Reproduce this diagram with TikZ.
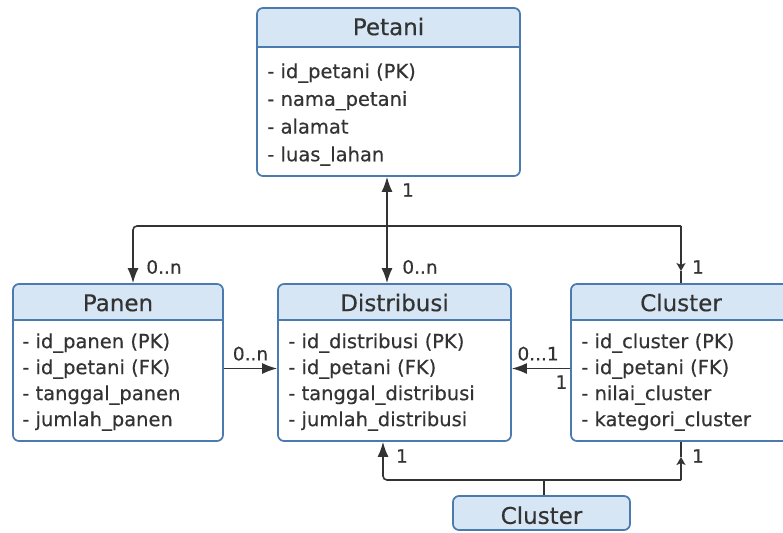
\documentclass[tikz,border=0pt]{standalone}
\usepackage{fontspec}
\setmainfont{DejaVu Sans}[UprightFeatures={FakeBold=0.4}]
\usetikzlibrary{arrows.meta, positioning, calc}

\definecolor{headblue}{HTML}{D6E6F4}
\definecolor{edgeblue}{HTML}{4A7AAE}
\definecolor{linkgray}{HTML}{333333}

\tikzset{
  box/.style={draw=edgeblue, line width=1.7pt, rounded corners=6pt, inner sep=0pt, fill=white},
  head/.style={path picture={\fill[headblue] (path picture bounding box.north west) rectangle ([yshift=-#1]path picture bounding box.north east);}},
  title/.style={font=\fontsize{23}{26}\selectfont, text=linkgray, anchor=base},
  attr/.style={font=\fontsize{19.5}{22}\selectfont, text=linkgray, anchor=base west, inner sep=0pt},
  card/.style={font=\fontsize{18.5}{20}\selectfont, text=linkgray, inner sep=0pt},
  link/.style={draw=linkgray, line width=1.6pt, rounded corners=4pt},
  big/.tip={Latex[length=15pt, width=11pt]},
  small/.tip={Stealth[length=8pt, width=9pt, inset=2pt]},
}

\begin{document}
\begin{tikzpicture}[x=1pt, y=-1pt]
  \useasboundingbox[fill=white] (0,0) rectangle (783,532);

  % entities
  \node[box, head=40pt, minimum width=263pt, minimum height=168pt] (petani) at (388.5,92) {};
  \node[box, head=37pt, minimum width=210pt, minimum height=157pt] (panen) at (118,362.5) {};
  \node[box, head=37pt, minimum width=233pt, minimum height=157pt] (distribusi) at (394.5,362.5) {};
  \node[box, head=37pt, minimum width=220pt, minimum height=157pt] (cluster) at (681,362.5) {};
  \node[box, fill=headblue, minimum width=177pt, minimum height=34pt] (clusterb) at (541.5,513) {};

  % dividers
  \draw[edgeblue, line width=1.7pt] ([yshift=-40pt]petani.north west) -- ([yshift=-40pt]petani.north east);
  \foreach \e in {panen, distribusi, cluster}
    \draw[edgeblue, line width=1.7pt] ([yshift=-37pt]\e.north west) -- ([yshift=-37pt]\e.north east);

  % titles
  \node[title] (petani-t) at ([yshift=-28pt]petani.north) {Petani};
  \node[title] (panen-t) at ([yshift=-28pt]panen.north) {Panen};
  \node[title] (distribusi-t) at ([yshift=-28pt]distribusi.north) {Distribusi};
  \node[title] (cluster-t) at ([yshift=-28pt]cluster.north) {Cluster};
  \node[title] (clusterb-t) at ([yshift=7pt]clusterb.south) {Cluster};

  % attributes
  \foreach \a [count=\i] in {- id\_petani (PK), - nama\_petani, - alamat, - luas\_lahan}
    \node[attr] (petani-\i) at ([xshift=11pt, yshift={-71pt-(\i-1)*27.7pt}]petani.north west) {\a};
  \foreach \a [count=\i] in {- id\_panen (PK), - id\_petani (FK), - tanggal\_panen, - jumlah\_panen}
    \node[attr] (panen-\i) at ([xshift=10pt, yshift={-65pt-(\i-1)*26pt}]panen.north west) {\a};
  \foreach \a [count=\i] in {- id\_distribusi (PK), - id\_petani (FK), - tanggal\_distribusi, - jumlah\_distribusi}
    \node[attr] (distribusi-\i) at ([xshift=11pt, yshift={-65pt-(\i-1)*26pt}]distribusi.north west) {\a};
  \foreach \a [count=\i] in {- id\_cluster (PK), - id\_petani (FK), - nilai\_cluster, - kategori\_cluster}
    \node[attr] (cluster-\i) at ([xshift=11pt, yshift={-65pt-(\i-1)*26pt}]cluster.north west) {\a};

  % connectors
  \coordinate (busL) at (133,226);
  \coordinate (busR) at (681,226);
  \coordinate (cmid) at (681,271);
  \coordinate (lowL) at (383,480);
  \coordinate (lowR) at (681,480);
  \coordinate (cmid2) at (681,457);

  \draw[link, {big}-{big}] (petani.south -| 387,0) -- (distribusi.north -| 387,0);
  \draw[link, -{big}] (busR) -- (busL) -- (busL |- panen.north);
  \draw[link, -{small}] (busR) -- (cmid);
  \draw[link] (cmid) -- (cluster.north);

  \draw[link, -{big}] ([yshift=-6pt]panen.east) -- ([yshift=-6pt]distribusi.west)
    node[card, midway, above=7pt] (lbl-pd) {0..n};
  \draw[link, -{big}] ([yshift=-6pt]cluster.west) -- ([yshift=-6pt]distribusi.east)
    node[card, pos=0.55, above=7pt] (lbl-cd) {0...1}
    node[card, pos=0.15, below=6pt] (lbl-cd2) {1};

  \draw[link] (clusterb.north -| 544,0) -- (lowL -| 544,0);
  \draw[link, -{big}] (lowR) -- (lowL) -- (lowL |- distribusi.south);
  \draw[link, -{small}] (lowR) -- (cmid2);
  \draw[link] (cmid2) -- (cluster.south);

  % multiplicities
  \node[card] (lbl-p) at (408,190) {1};
  \node[card] (lbl-pn) at (164,267) {0..n};
  \node[card] (lbl-dn) at (420,267) {0..n};
  \node[card] (lbl-c) at (698,267) {1};
  \node[card] (lbl-d1) at (402,456) {1};
  \node[card] (lbl-c1) at (698,456) {1};
\end{tikzpicture}
\end{document}
